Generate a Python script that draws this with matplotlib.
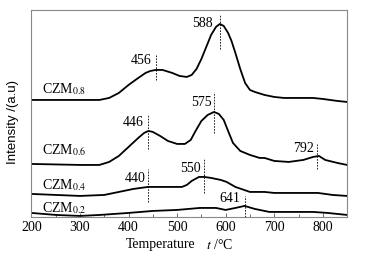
import matplotlib
matplotlib.use('Agg')
import matplotlib.pyplot as plt
import numpy as np

# temperature (C) and intensity (arbitrary units)
T_08 = [200, 250, 300, 340, 360, 380, 400, 420, 435, 445, 456, 470, 490, 505, 520, 530, 540, 550,
        560, 570, 580, 588, 596, 605, 612, 620, 630, 640, 650, 660, 680, 700, 720, 760, 780, 800, 830, 850]
I_08 = [117, 117, 117, 117, 119, 124, 132, 139, 144, 146, 147, 147, 144, 141, 140, 142, 148, 158,
        170, 182, 190, 193, 191, 184, 176, 164, 148, 134, 127, 125, 122, 120, 119, 119, 119, 118, 116, 115]

T_06 = [200, 300, 340, 360, 380, 400, 420, 432, 441, 450, 465, 481, 500, 516, 528, 538, 550, 563, 576,
        586, 596, 605, 615, 630, 650, 670, 680, 700, 730, 760, 780, 792, 805, 830, 850]
I_06 = [53, 52, 52, 55, 61, 70, 79, 84, 86, 85, 81, 76, 73, 73, 77, 86, 96, 102, 105,
        103, 97, 86, 74, 66, 62, 59, 59, 56, 55, 57, 60, 61, 57, 54, 52]

T_04 = [200, 250, 300, 350, 380, 410, 440, 470, 510, 520, 530, 545, 556, 570, 590, 602, 620, 650, 680,
        700, 750, 790, 820, 850]
I_04 = [23, 22, 21, 22, 25, 28, 30, 30, 30, 32, 36, 40, 40, 39, 37, 35, 30, 25, 25,
        24, 24, 24, 22, 21]

T_02 = [200, 250, 300, 341, 400, 450, 500, 547, 580, 600, 620, 639, 660, 690, 740, 780, 810, 850]
I_02 = [4, 2, 1, 2, 4, 6, 7, 9, 9, 7, 9, 11, 8, 5, 5, 5, 4, 2]

names = ['CZM$_{0.8}$', 'CZM$_{0.6}$', 'CZM$_{0.4}$', 'CZM$_{0.2}$']
name_y = [128, 67, 32, 9]

peaks = [588, 456, 576, 441, 789, 556, 440, 639]
peak_lo = [168, 137, 84, 68, 48, 24, 15, 0]
peak_hi = [202, 162, 125, 103, 74, 59, 48, 21]
peak_tx = [553, 425, 551, 409, 760, 527, 413, 609]
peak_ty = [193, 156, 114, 94, 68, 48, 38, 18]
peak_lab = [588, 456, 575, 446, 792, 550, 440, 641]

plt.rcParams['font.family'] = ['Liberation Serif', 'DejaVu Serif']
plt.rcParams['mathtext.fontset'] = 'stix'

fig = plt.figure(figsize=(3.7, 2.62), dpi=100)
ax = fig.add_axes([0.085, 0.172, 0.853, 0.79])

for T, I in [(T_08, I_08), (T_06, I_06), (T_04, I_04), (T_02, I_02)]:
    ax.plot(T, I, color='black', lw=1.3, solid_joinstyle='round')

for n, y in zip(names, name_y):
    ax.text(221, y, n, fontsize=10, ha='left', va='center')

for p, lo, hi, tx, ty, lab in zip(peaks, peak_lo, peak_hi, peak_tx, peak_ty, peak_lab):
    ax.plot([p, p], [lo, hi], color='black', lw=0.6, ls=(0, (2, 1.5)))
    ax.text(tx, ty, str(lab), fontsize=10, ha='center', va='center')

ax.set_xlim(200, 850)
ax.set_ylim(0, 207)
ax.set_xticks([200, 300, 400, 500, 600, 700, 800])
ax.set_xticks([250, 350, 450, 550, 650, 750], minor=True)
ax.set_yticks([])
ax.tick_params(axis='x', direction='in', length=3, width=0.6, labelsize=10, pad=3, color='#555555')
ax.tick_params(axis='x', which='minor', direction='in', length=2, width=0.6, color='#555555')
for s in ax.spines.values():
    s.set_color('#888888')
    s.set_linewidth(0.8)

# x label drawn in two parts, as in the original
ax.text(466, -0.135, 'Temperature', transform=ax.get_xaxis_transform(),
        fontsize=10, ha='center', va='center')
ax.text(587, -0.135, '$t$ /°C', transform=ax.get_xaxis_transform(),
        fontsize=10, ha='center', va='center')
ax.set_ylabel('Intensity /(a.u)', fontsize=9.5, family=['Liberation Sans', 'DejaVu Sans'])
ax.yaxis.set_label_coords(-0.04, 0.46)

fig.savefig('out.png', dpi=100)
